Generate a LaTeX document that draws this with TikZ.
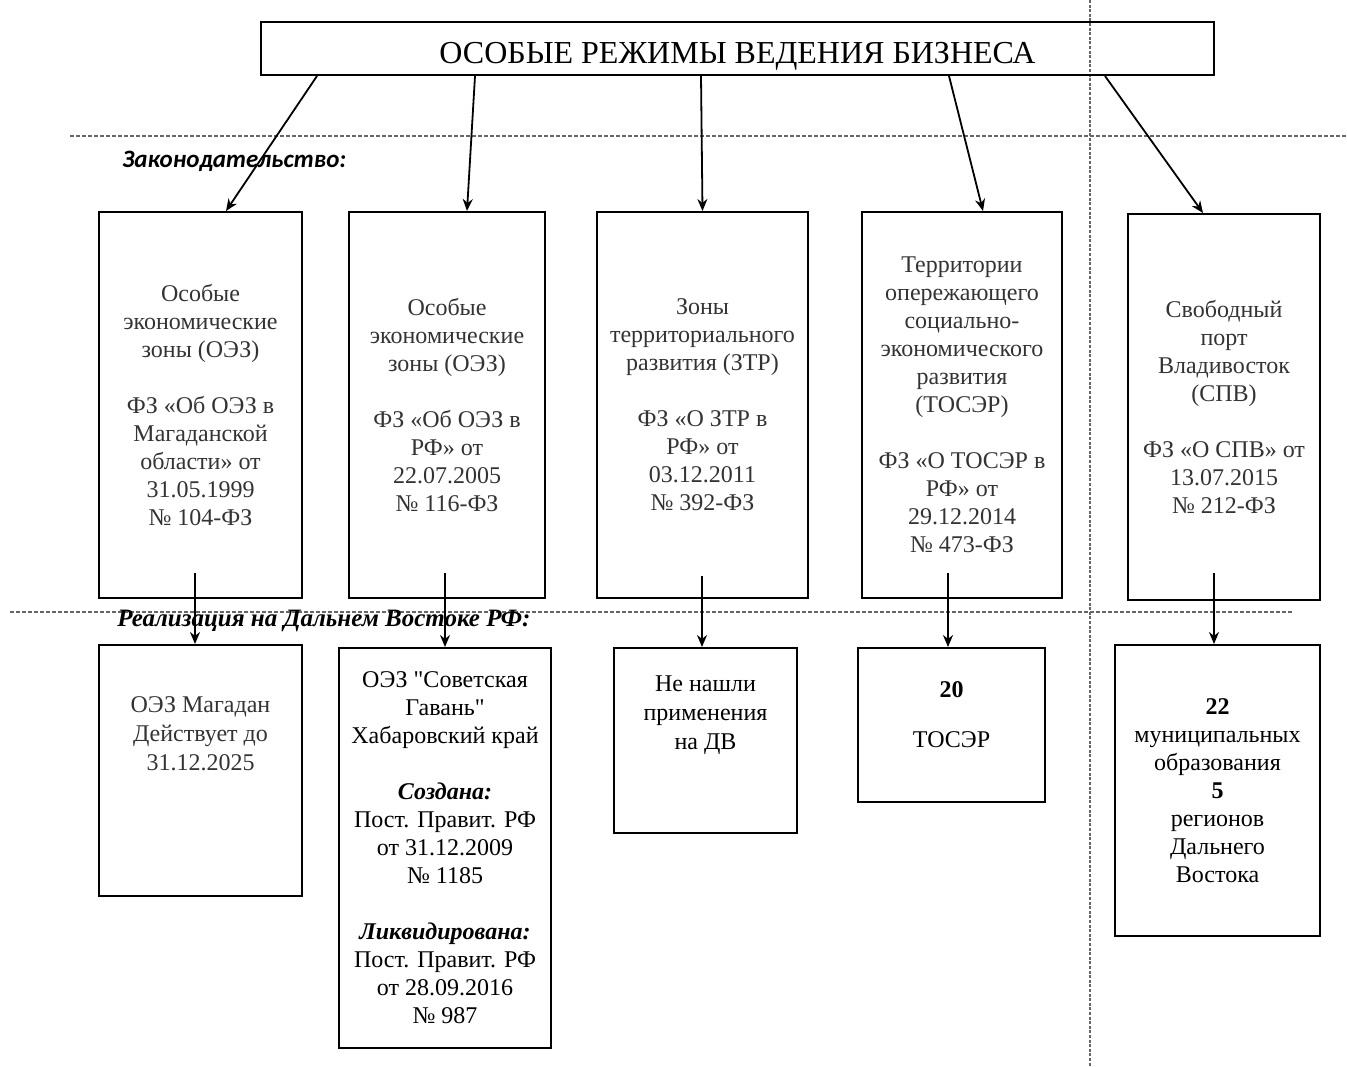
\documentclass[tikz,border=0pt]{standalone}
\usepackage{fontspec}
\setmainfont{Liberation Serif}
\newfontfamily\headfont{Carlito}
\usetikzlibrary{arrows.meta, calc}
\tikzstyle{box} = [rectangle, draw, line width=1pt, text centered, align=center, inner sep=0pt, font=\fontsize{12}{14}\selectfont]
\tikzstyle{txt} = [align=center, inner sep=0pt, font=\fontsize{12}{14.6}\selectfont]
\tikzstyle{arrow} = [line width=0.9pt,-{Stealth[length=6pt,width=5pt]}]
\tikzstyle{sep} = [black!60, line width=0.6pt, dash pattern=on 2pt off 1pt]

\begin{document}
\begin{tikzpicture}[x=0.5pt, y=-0.5pt]
            \useasboundingbox (0,0) rectangle (1347,1066);

            % separators
            \coordinate (s1a) at (70,136);
            \coordinate (s1b) at (1347,136);
            \coordinate (s2a) at (10,612);
            \coordinate (s2b) at (1293,612);
            \coordinate (v1a) at (1090,0);
            \coordinate (v1b) at (1090,1066);
            \draw [sep] (s1a) -- (s1b);
            \draw [sep] (s2a) -- (s2b);
            \draw [sep, dash pattern=on 1.5pt off 0.8pt] (v1a) -- (v1b);

            \node (title) [box, minimum width=476.5pt, minimum height=26.5pt, font=\fontsize{16}{19}\selectfont, text height=14.6pt, text depth=0pt] at (737.5,48.5) {ОСОБЫЕ РЕЖИМЫ ВЕДЕНИЯ БИЗНЕСА};

            \node (law)  [anchor=west, inner sep=0pt] at (122,161) {\headfont\fontsize{12.5}{15}\selectfont\bfseries\itshape Законодательство:};
            \node (impl) [anchor=west, inner sep=0pt] at (117,621) {\fontsize{12.5}{15}\selectfont\bfseries\itshape Реализация на Дальнем Востоке РФ:};

            % legislation
            \node (b1) [box, minimum width=101.5pt, minimum height=193pt, text=black!80] at (200.5,405) {Особые\\экономические\\зоны (ОЭЗ)\\[14pt]ФЗ «Об ОЭЗ в\\Магаданской\\области» от\\31.05.1999\\№ 104-ФЗ};
            \node (b2) [box, minimum width=98pt, minimum height=193pt, text=black!80] at (447,405) {Особые\\экономические\\зоны (ОЭЗ)\\[14pt]ФЗ «Об ОЭЗ в\\РФ» от\\22.07.2005\\№ 116-ФЗ};
            \node (b3) [box, minimum width=105.5pt, minimum height=193pt, text=black!80] at (702.5,405) {Зоны\\территориального\\развития (ЗТР)\\[14pt]ФЗ «О ЗТР в\\РФ» от\\03.12.2011\\№ 392-ФЗ};
            \node (b4) [box, minimum width=100pt, minimum height=193pt, text=black!80] at (962,405) {Территории\\опережающего\\социально-\\экономического\\развития\\(ТОСЭР)\\[14pt]ФЗ «О ТОСЭР в\\РФ» от\\29.12.2014\\№ 473-ФЗ};
            \node (b5) [box, minimum width=96pt, minimum height=193pt, text=black!80] at (1224,407) {Свободный\\порт\\Владивосток\\(СПВ)\\[14pt]ФЗ «О СПВ» от\\13.07.2015\\№ 212-ФЗ};

            % realisation
            \node (c1) [box, minimum width=101.5pt, minimum height=125.5pt] at (200.5,770.5) {};
            \node (c1t) [txt, anchor=north, text=black!80] at ($(c1.north)+(0,52)$) {ОЭЗ Магадан\\Действует до\\31.12.2025};
            \node (c2) [box, minimum width=106pt, minimum height=200pt] at (445,848) {ОЭЗ \textquotedbl Советская\\Гавань\textquotedbl\\Хабаровский край\\[14pt]\textbf{\textit{Создана:}}\\Пост. Правит. РФ\\от 31.12.2009\\№ 1185\\[14pt]\textbf{\textit{Ликвидирована:}}\\Пост. Правит. РФ\\от 28.09.2016\\№ 987};
            \node (c3) [box, minimum width=91.5pt, minimum height=92.5pt] at (705.5,740.5) {};
            \node (c3t) [txt, anchor=north] at ($(c3.north)+(0,28)$) {Не нашли\\применения\\на ДВ};
            \node (c4) [box, minimum width=93.5pt, minimum height=77pt] at (951.5,725) {};
            \node (c4t) [txt, anchor=north] at ($(c4.north)+(0,34)$) {\textbf{20}\\[10.5pt]ТОСЭР};
            \node (c5) [box, minimum width=102.5pt, minimum height=145.5pt] at (1217.5,790.5) {\textbf{22}\\муниципальных\\образования\\\textbf{5}\\регионов\\Дальнего\\Востока};

            \draw [arrow] ($(title.south west)+(57,0)$)  -- ($(b1.north)+(25.5,0)$);
            \draw [arrow] ($(title.south west)+(215,0)$) -- ($(b2.north)+(20,0)$);
            \draw [arrow] ($(title.south west)+(441,0)$) -- (b3.north);
            \draw [arrow] ($(title.south west)+(689,0)$) -- ($(b4.north)+(21,0)$);
            \draw [arrow] ($(title.south west)+(845,0)$) -- ($(b5.north)+(-21,0)$);

            \draw [arrow] ($(b1.south)+(-5.5,-26)$) -- ($(c1.north)+(-5.5,0)$);
            \draw [arrow] ($(b2.south)+(-2,-26)$)   -- (c2.north);
            \draw [arrow] ($(b3.south)+(-0.5,-23)$) -- ($(c3.north)+(-3.5,0)$);
            \draw [arrow] ($(b4.south)+(-14,-26)$)  -- ($(c4.north)+(-3.5,0)$);
            \draw [arrow] ($(b5.south)+(-10,-28)$)  -- ($(c5.north)+(-3.5,0)$);
        \end{tikzpicture}
\end{document}
